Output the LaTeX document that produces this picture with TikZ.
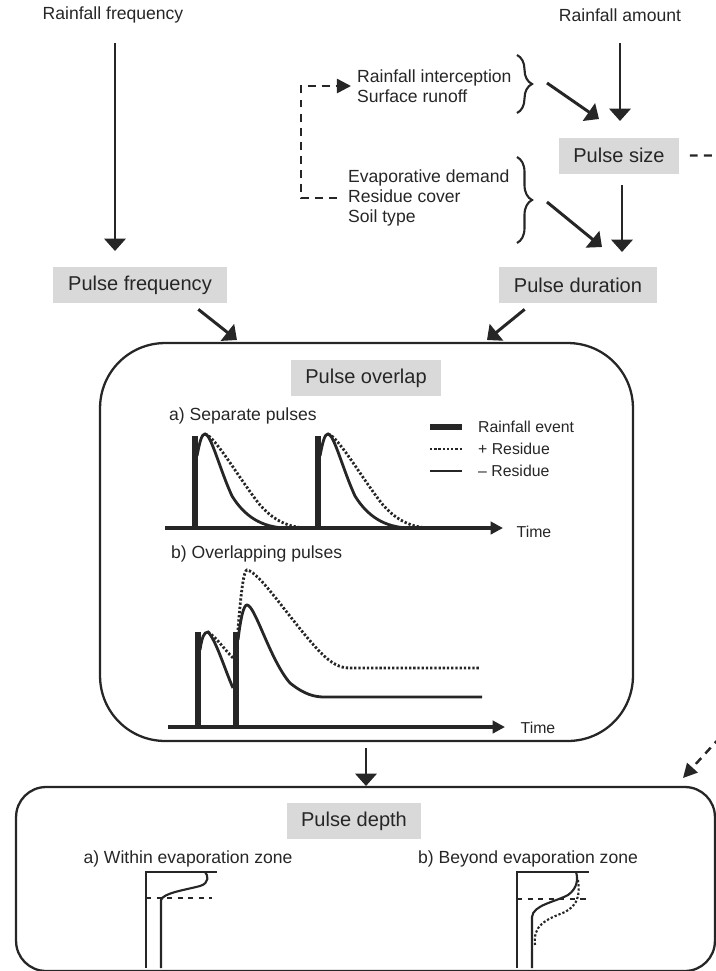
\documentclass[tikz,border=0pt]{standalone}
\usepackage{fontspec}
\setmainfont{Liberation Sans}
\usetikzlibrary{arrows.meta, decorations.pathreplacing}
\definecolor{ink}{HTML}{262626}
\definecolor{boxgray}{HTML}{D9D9D9}

\begin{document}
\begin{tikzpicture}[x=0.02cm, y=-0.02cm, color=ink, text=ink]

\tikzset{txt/.style = {font=\fontsize{10}{11.4}\selectfont, align=left}}
\tikzset{small/.style = {font=\fontsize{9}{11}\selectfont}}
\tikzset{box/.style = {fill=boxgray, font=\fontsize{11.4}{13}\selectfont, minimum height=0.72cm}}
\tikzset{frame/.style = {draw, line width=1.3pt}}
\tikzset{edge/.style = {-{Triangle[width=12pt,length=7pt]}, line width=1.7pt}}
\tikzset{dashedge/.style = {-{Triangle[width=8pt,length=8pt]}, line width=1.4pt, dash pattern=on 4.5pt off 3.5pt}}
\tikzset{brace/.style = {decorate, decoration={brace, amplitude=0.3cm}, line width=1.2pt}}
\tikzset{axis/.style = {-{Triangle[width=7pt,length=7pt]}, line width=2.2pt}}
\tikzset{rain/.style = {line width=0.12cm}}
\tikzset{wet/.style = {line width=1.6pt}}
\tikzset{resid/.style = {line width=1.6pt, dash pattern=on 1.3pt off 1.1pt}}
\tikzset{prof/.style = {line width=1.2pt}}

\useasboundingbox (0,0) rectangle (716,971);
\clip (0,0) rectangle (716,971);

%drivers
\node[txt] (rfreq) at (113,15) {Rainfall frequency};
\node[txt] (ramount) at (620,15) {Rainfall amount};
\node[txt, anchor=west] (intercept) at (351,86) {Rainfall interception\\Surface runoff};
\node[txt, anchor=west] (evap) at (342,198) {Evaporative demand\\Residue cover\\Soil type};

%pulse boxes
\node[box, minimum width=3.48cm] (pfreq) at (140,285) {Pulse frequency};
\node[box, minimum width=2.42cm] (psize) at (619,155.5) {Pulse size};
\node[box, minimum width=3.16cm] (pdur) at (578,285) {Pulse duration};

%frames
\node[frame, rounded corners=1.3cm, minimum width=10.66cm, minimum height=7.96cm] (overlap) at (366.5,542) {};
\node[frame, rounded corners=0.6cm, minimum width=13.98cm, minimum height=3.68cm] (depth) at (365.5,879) {};
\node[box, minimum width=3cm] (poverlap) at (366,378) {Pulse overlap};
\node[box, minimum width=2.7cm] (pdepth) at (354,821) {Pulse depth};

%arrow ends
\coordinate (f0) at (115,43);
\coordinate (f1) at (115,251);
\coordinate (a0) at (620,43);
\coordinate (a1) at (620,121);
\coordinate (s0) at (622,185);
\coordinate (s1) at (622,252);
\coordinate (bt) at (547,83);
\coordinate (bt1) at (599,119);
\coordinate (bb) at (547,202);
\coordinate (bb1) at (602,247);
\coordinate (o1) at (237,340);
\coordinate (o2) at (487,340);
\coordinate (d0) at (366,748);
\coordinate (d1) at (366,786);
\coordinate (e1) at (683,778);

%braces
\draw[brace] (517,55) -- (517,113);
\draw[brace] (517,157) -- (517,243);

%edges
\draw[edge] (f0) -- (f1);
\draw[edge] (a0) -- (a1);
\draw[edge] (s0) -- (s1);
\draw[edge] (bt) -- (bt1);
\draw[edge] (bb) -- (bb1);
\draw[edge] ([xshift=-0.58cm, yshift=-0.12cm]pfreq.south east) -- (o1);
\draw[edge] ([xshift=0.52cm, yshift=-0.12cm]pdur.south west) -- (o2);
\draw[edge] (d0) -- (d1);
\draw[dashedge] ([xshift=-0.1cm]evap.west) -| ([xshift=-1cm]intercept.west) -- (intercept.west);
\draw[dashedge] ([xshift=0.2cm]psize.east) -- (745,155.5) -- (745,710) -- (e1);

%a) separate pulses
\node[txt, anchor=west] (sep) at (163,416) {a) Separate pulses};
\draw[axis] (165,528) -- (503,528);
\node[small] (time1) at (534,532) {Time};
\draw[rain] (195,528) -- (195,436);
\draw[wet] (197,456) .. controls (200,440) and (202,434) .. (205,434) .. controls (211,434) and (220,470) .. (232,496) .. controls (245,517) and (262,527) .. (285,528);
\draw[resid] (205,434) .. controls (215,436) and (240,480) .. (260,505) .. controls (275,522) and (290,527) .. (305,528);
\draw[rain] (318,528) -- (318,436);
\draw[wet] (320,456) .. controls (323,440) and (325,434) .. (328,434) .. controls (334,434) and (343,470) .. (355,496) .. controls (368,517) and (385,527) .. (408,528);
\draw[resid] (328,434) .. controls (338,436) and (363,480) .. (383,505) .. controls (398,522) and (413,527) .. (428,528);

%legend
\draw[rain] (430,427) -- (462,427);
\node[small, anchor=west] (lrain) at (472,427) {Rainfall event};
\draw[resid] (430,449) -- (462,449);
\node[small, anchor=west] (lplus) at (472,449) {+ Residue};
\draw[wet] (430,471) -- (462,471);
\node[small, anchor=west] (lminus) at (472,471) {\textendash{} Residue};

%b) overlapping pulses
\node[txt, anchor=west] (ovl) at (165,554) {b) Overlapping pulses};
\draw[axis] (168,727) -- (505,727);
\node[small] (time2) at (538,728) {Time};
\draw[rain] (198,727) -- (198,632);
\draw[rain] (236,727) -- (236,632);
\draw[wet] (200,650) .. controls (202,637) and (204,632) .. (208,632) .. controls (216,640) and (225,670) .. (233,688);
\draw[resid] (208,632) .. controls (216,637) and (225,650) .. (233,658);
\draw[wet] (238,640) .. controls (241,615) and (244,605) .. (247,605) .. controls (255,605) and (270,660) .. (290,683) .. controls (305,695) and (315,697) .. (325,697) -- (482,697);
\draw[resid] (238,630) .. controls (241,590) and (244,570) .. (247,570) .. controls (260,572) and (290,620) .. (320,652) .. controls (332,664) and (340,668) .. (350,668) -- (480,668);

%depth profiles
\node[txt] (within) at (188,859) {a) Within evaporation zone};
\node[txt] (beyond) at (528,859) {b) Beyond evaporation zone};
\draw[prof] (146,968) -- (146,872) -- (217,872);
\draw[prof] (161,968) -- (161,900) .. controls (163,893) and (185,890) .. (200,886) .. controls (210,883) and (208,875) .. (205,872);
\draw[prof, dashed] (146,898) -- (212,898);
\draw[prof] (517,968) -- (517,872) -- (589,872);
\draw[prof] (532,968) -- (532,917) .. controls (533,905) and (555,902) .. (568,895) .. controls (578,888) and (578,878) .. (576,872);
\draw[resid, line width=1.2pt] (535,945) .. controls (533,925) and (545,920) .. (565,912) .. controls (578,905) and (580,895) .. (578,880);
\draw[prof, dashed] (517,899) -- (590,899);

\end{tikzpicture}
\end{document}
